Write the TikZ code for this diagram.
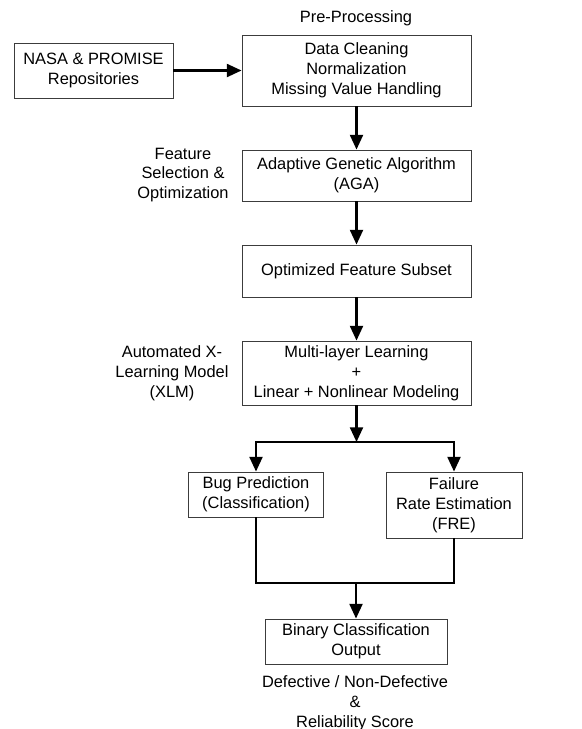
\documentclass[tikz,border=0pt]{standalone}
\usepackage{fontspec}
\setmainfont{Liberation Sans}
\usetikzlibrary{arrows.meta,calc,positioning}
\definecolor{boxc}{RGB}{60,60,60}

\begin{document}
\begin{tikzpicture}[x=0.03cm,y=-0.03cm,
  font=\fontsize{14}{17}\selectfont,
  box/.style={draw=boxc,line width=0.8pt,align=center,inner sep=2pt},
  lbl/.style={align=center,inner sep=0pt},
  arr/.style={line width=1.8pt,-{Triangle[length=4.4mm,width=3.9mm]}},
  wire/.style={line width=1.8pt}]
  \useasboundingbox (0,0) rectangle (581,729);
  % boxes
  \node[box,minimum width=4.77cm,minimum height=1.65cm] (nasa) at (93.5,70.5) {NASA \& PROMISE\\Repositories};
  \node[box,minimum width=6.87cm,minimum height=2.13cm] (prep) at (356.5,70.5) {Data Cleaning\\Normalization\\Missing Value Handling};
  \node[box,minimum width=6.87cm,minimum height=1.53cm] (aga) at (356.5,175.5) {Adaptive Genetic Algorithm\\(AGA)};
  \node[box,minimum width=6.87cm,minimum height=1.56cm] (ofs) at (356.5,271) {Optimized Feature Subset};
  \node[box,minimum width=6.87cm,minimum height=1.92cm] (xlm) at (356.5,373) {Multi-layer Learning\\+\\Linear + Nonlinear Modeling};
  \node[box,minimum width=4.05cm,minimum height=1.35cm] (bug) at (256,494.5) {Bug Prediction\\(Classification)};
  \node[box,minimum width=4.08cm,minimum height=1.98cm] (fre) at (454,505) {Failure\\Rate Estimation\\(FRE)};
  \node[box,minimum width=5.46cm,minimum height=1.35cm] (bin) at (356,641.5) {Binary Classification\\Output};
  % side labels
  \node[lbl] (preplbl) at (356,18) {Pre-Processing};
  \node[lbl] (agalbl) at (183,175) {Feature\\Selection \&\\Optimization};
  \node[lbl] (xlmlbl) at (172,373) {Automated X-\\Learning Model\\(XLM)};
  \node[lbl] (outlbl) at (355,703) {Defective / Non-Defective\\\&\\Reliability Score};
  % connectors
  \coordinate (split) at (356.5,442);
  \coordinate (merge) at (356,583);
  \draw[arr] (nasa) -- (prep);
  \draw[arr] (prep) -- (aga);
  \draw[arr] (aga) -- (ofs);
  \draw[arr] (ofs) -- (xlm);
  \draw[arr] (xlm) -- (split);
  \draw[arr] (split) -| (bug.north);
  \draw[arr] (split) -| (fre.north);
  \draw[wire] (bug.south) |- (merge);
  \draw[wire] (fre.south) |- (merge);
  \draw[arr] (merge) -- (bin);
\end{tikzpicture}
\end{document}
